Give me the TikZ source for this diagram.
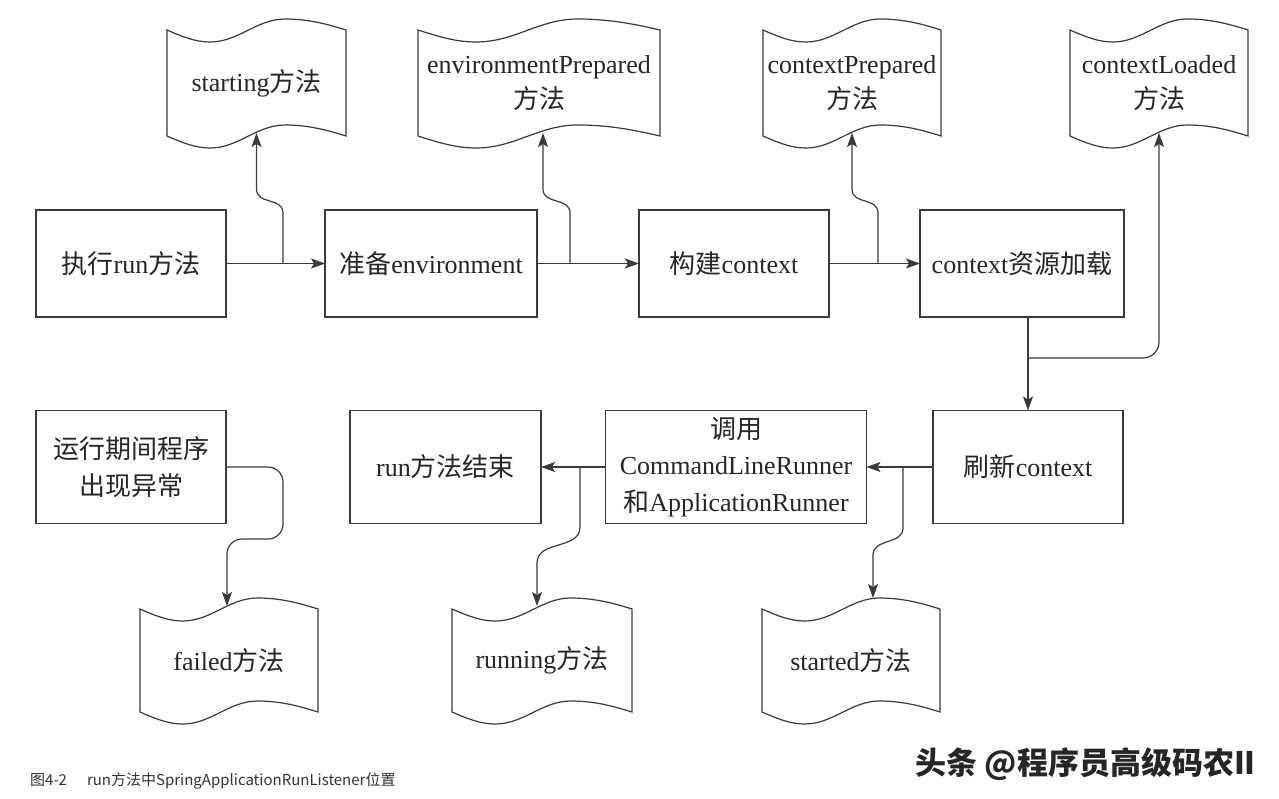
\documentclass[tikz,border=0pt]{standalone}
\usepackage{fontspec}
\setmainfont{Liberation Serif}
\newfontfamily\cjk{Noto Sans CJK SC}
\usetikzlibrary{arrows.meta,calc}
\newcommand\zh[1]{{\cjk #1}}
\definecolor{ln}{HTML}{3a3a3a}
\definecolor{tx}{HTML}{262626}
\newcommand\wavy[1]{%
\draw[line] (#1.north west)
 .. controls ($(#1.north west)!0.09!(#1.north east)+(0,7)$) and ($(#1.north west)!0.16!(#1.north east)+(0,12)$) .. ($(#1.north west)!0.24!(#1.north east)+(0,12)$)
 .. controls ($(#1.north west)!0.40!(#1.north east)+(0,12)$) and ($(#1.north west)!0.50!(#1.north east)+(0,-11)$) .. ($(#1.north west)!0.66!(#1.north east)+(0,-11)$)
 .. controls ($(#1.north west)!0.80!(#1.north east)+(0,-11)$) and ($(#1.north west)!0.91!(#1.north east)+(0,-5)$) .. (#1.north east)
 -- (#1.south east)
 .. controls ($(#1.south west)!0.91!(#1.south east)+(0,-5)$) and ($(#1.south west)!0.80!(#1.south east)+(0,-11)$) .. ($(#1.south west)!0.66!(#1.south east)+(0,-11)$)
 .. controls ($(#1.south west)!0.50!(#1.south east)+(0,-11)$) and ($(#1.south west)!0.40!(#1.south east)+(0,12)$) .. ($(#1.south west)!0.24!(#1.south east)+(0,12)$)
 .. controls ($(#1.south west)!0.16!(#1.south east)+(0,12)$) and ($(#1.south west)!0.09!(#1.south east)+(0,7)$) .. (#1.south west)
 -- cycle;}
\begin{document}
\begin{tikzpicture}[x=1pt,y=-1pt,
  line/.style={draw=ln, line width=1.2pt},
  box/.style={line, rectangle, outer sep=0pt, inner sep=2pt, text=tx, font=\fontsize{26}{36.5}\selectfont, align=center},
  doc/.style={rectangle, outer sep=0pt, inner sep=0pt, text=tx, font=\fontsize{26}{35}\selectfont, align=center},
  arr/.style={line, -{Stealth[length=14pt,width=10pt,inset=3pt]}},
]
\useasboundingbox[fill=white] (0,0) rectangle (1279,798);

% boxes
\node[box, minimum width=190pt, minimum height=107pt] (b1) at (131,263.5) {\zh{执行}run\zh{方法}};
\node[box, minimum width=212pt, minimum height=107pt] (b2) at (431,263.5) {\zh{准备}environment};
\node[box, minimum width=190pt, minimum height=107pt] (b3) at (734,263.5) {\zh{构建}context};
\node[box, minimum width=204pt, minimum height=107pt] (b4) at (1022,263.5) {context\zh{资源加载}};
\node[box, minimum width=190pt, minimum height=113pt] (b5) at (1028,467) {\zh{刷新}context};
\node[box, minimum width=261pt, minimum height=113pt] (b6) at (736,467) {\zh{调用}\\CommandLineRunner\\\zh{和}ApplicationRunner};
\node[box, minimum width=191pt, minimum height=113pt] (b7) at (445.5,467) {run\zh{方法结束}};
\node[box, minimum width=190pt, minimum height=113pt] (b8) at (131,467) {\zh{运行期间程序}\\\zh{出现异常}};

% documents
\node[doc, minimum width=179pt, minimum height=106pt] (d1) at (256.5,83) {starting\zh{方法}};
\node[doc, minimum width=242pt, minimum height=106pt] (d2) at (539,83) {environmentPrepared\\\zh{方法}};
\node[doc, minimum width=178pt, minimum height=106pt] (d3) at (852,83) {contextPrepared\\\zh{方法}};
\node[doc, minimum width=178pt, minimum height=106pt] (d4) at (1159,83) {contextLoaded\\\zh{方法}};
\node[doc, minimum width=178pt, minimum height=103pt] (d5) at (229,660.5) {failed\zh{方法}};
\node[doc, minimum width=180pt, minimum height=103pt] (d6) at (542,660.5) {running\zh{方法}};
\node[doc, minimum width=178pt, minimum height=103pt] (d7) at (851,660.5) {started\zh{方法}};
\wavy{d1}\wavy{d2}\wavy{d3}\wavy{d4}\wavy{d5}\wavy{d6}\wavy{d7}

% junctions
\coordinate (j1) at (283,263.5);
\coordinate (j2) at (570,263.5);
\coordinate (j3) at (878,263.5);
\coordinate (j4) at (1028,358);
\coordinate (j5) at (903,467);
\coordinate (j6) at (580,467);

% connectors
\draw[arr] (b1.east) -- (b2.west);
\draw[arr] (b2.east) -- (b3.west);
\draw[arr] (b3.east) -- (b4.west);
\draw[arr] (b5.north |- b4.south) -- (b5.north);
\draw[arr] (b5.west) -- (b6.east);
\draw[arr] (b6.west) -- (b7.east);

\draw[arr] (j1) -- (283,213) .. controls (283,197) and (256.5,205) .. (256.5,189) -- ($(d1.south)+(0,-3)$);
\draw[arr] (j2) -- (570,213) .. controls (570,197) and (543,205) .. (543,189) -- ($(d2.south)+(4,-3)$);
\draw[arr] (j3) -- (878,213) .. controls (878,197) and (852,205) .. (852,189) -- ($(d3.south)+(0,-3)$);
\draw[arr, rounded corners=16pt] (j4) -| ($(d4.south)+(0,-3)$);
\draw[arr] (j5) -- (903,528) .. controls (903,545) and (873,538) .. (873,555) -- ($(d7.north)+(22,-11)$);
\draw[arr] (j6) -- (580,527) .. controls (580,550) and (537,540) .. (537,563) -- ($(d6.north)+(-5,-3)$);
\draw[arr, rounded corners=15pt] (b8.east) -| (283,539) -| ($(d5.north)+(-2,-3)$);

% caption and watermark
\node[anchor=west, font=\cjk\fontsize{15}{17}\selectfont, text=black!80, inner sep=0pt] (cap) at (30,781) {图4-2\hspace{20pt}run方法中SpringApplicationRunListener位置};
\node[anchor=east, font=\cjk\bfseries\fontsize{31}{34}\selectfont, text=black!85, inner sep=0pt] (wm) at (1256,764) {头条 @程序员高级码农II};
\end{tikzpicture}
\end{document}
